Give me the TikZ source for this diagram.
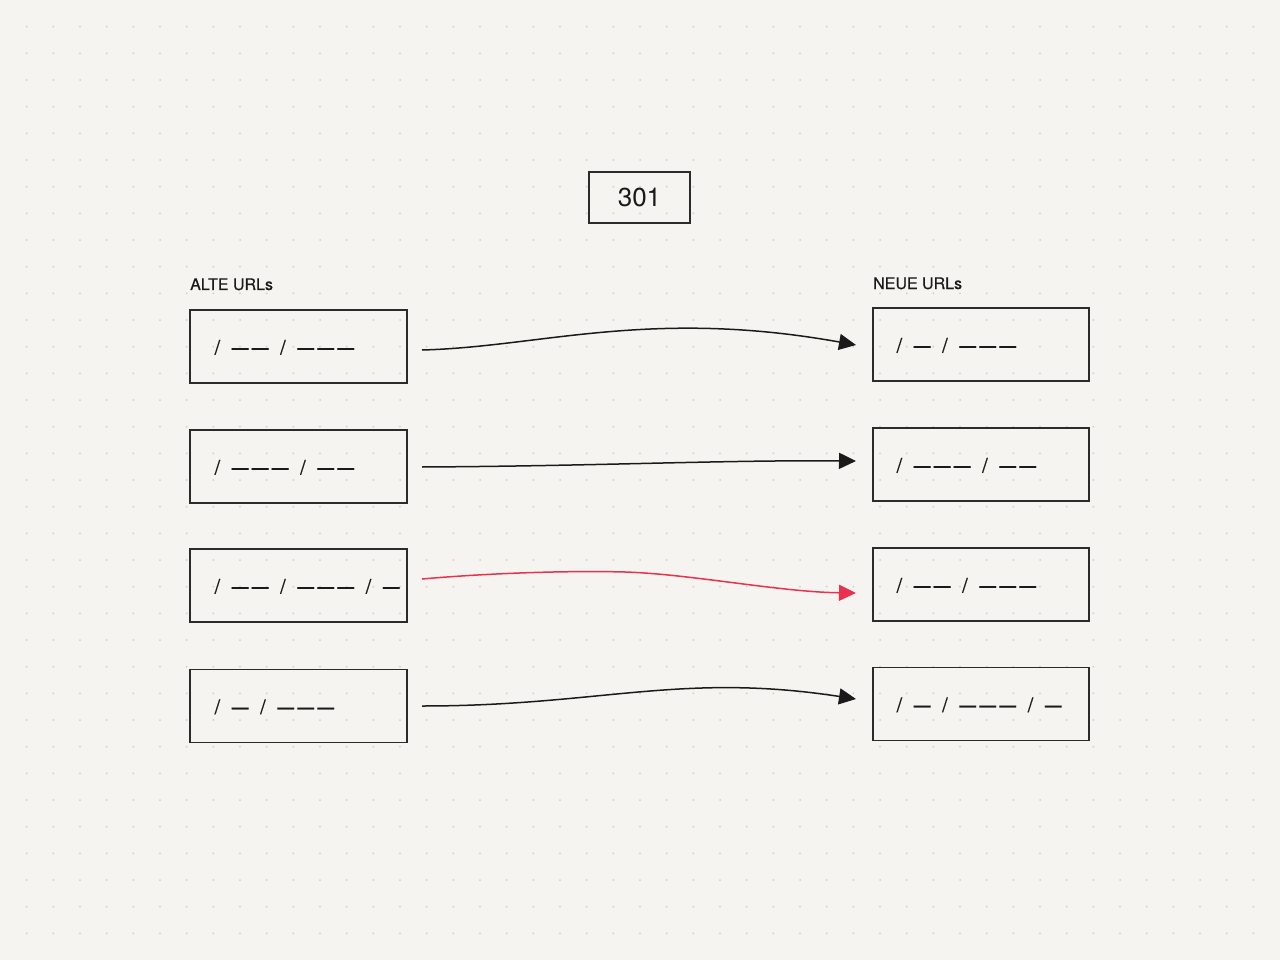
\documentclass[tikz,border=0pt]{standalone}
\usepackage{fontspec}
\setmainfont{TeX Gyre Heros}
\newfontfamily\medfont[FakeBold=0.5]{TeX Gyre Heros}
\usetikzlibrary{arrows.meta,calc}
\definecolor{bgc}{HTML}{F6F4F0}
\definecolor{dotc}{HTML}{D2CDC5}
\definecolor{boxc}{HTML}{2B2B2B}
\definecolor{txtc}{HTML}{1A1A1A}
\definecolor{redc}{HTML}{E8324F}
\newcommand\gp{\hspace{10pt}}
\newcommand\dsh{\makebox[20pt]{\raisebox{-0.8pt}{\scalebox{0.84}[1.15]{—}}}}
\tikzset{
  urlbox/.style={draw=boxc, line width=1.2pt, fill=none, minimum width=217pt, minimum height=73pt, inner sep=0pt},
  urltext/.style={anchor=base west, inner sep=0pt, text=txtc, font=\medfont\fontsize{20}{24}\selectfont},
  head/.style={anchor=base west, inner sep=0pt, text=txtc, font=\medfont\fontsize{16}{19}\selectfont},
  conn/.style={line width=1.5pt, draw=txtc, -{Triangle[length=17pt,width=16pt]}},
  connred/.style={line width=1.5pt, draw=redc, -{Triangle[length=17pt,width=16pt]}},
}
\begin{document}
\begin{tikzpicture}[x=1pt,y=-1pt]
\useasboundingbox (0,0) rectangle (1280,960);
\fill[bgc] (0,0) rectangle (1280,960);
\foreach \i in {1,...,47}{
  \foreach \j in {1,...,35}{
    \fill[dotc] (\i*26.667,\j*26.667) circle[radius=1pt];
  }
}
% 301 box
\node[draw=boxc, line width=1.2pt, minimum width=101pt, minimum height=51pt, inner sep=0pt, text=txtc, font=\fontsize{26}{30}\selectfont] (code) at (639.5,197.5) {301};
% headings
\node[head] (alte) at (190,290) {ALTE URLs};
\node[head] (neue) at (873,289) {NEUE URLs};
% left boxes
\node[urlbox] (L1) at (298.5,346.5) {};
\node[urlbox] (L2) at (298.5,466.5) {};
\node[urlbox] (L3) at (298.5,585.5) {};
\node[urlbox] (L4) at (298.5,706) {};
% right boxes
\node[urlbox, minimum width=216pt] (R1) at (981,344.5) {};
\node[urlbox, minimum width=216pt] (R2) at (981,464.5) {};
\node[urlbox, minimum width=216pt] (R3) at (981,584.5) {};
\node[urlbox, minimum width=216pt] (R4) at (981,704) {};
% texts
\node[urltext] (L1t) at ($(L1.west)+(25,8)$) {/\gp\dsh\dsh\gp/\gp\dsh\dsh\dsh};
\node[urltext] (L2t) at ($(L2.west)+(25,8)$) {/\gp\dsh\dsh\dsh\gp/\gp\dsh\dsh};
\node[urltext] (L3t) at ($(L3.west)+(25,8)$) {/\gp\dsh\dsh\gp/\gp\dsh\dsh\dsh\gp/\gp\dsh};
\node[urltext] (L4t) at ($(L4.west)+(25,8)$) {/\gp\dsh\gp/\gp\dsh\dsh\dsh};
\node[urltext] (R1t) at ($(R1.west)+(24,8)$) {/\gp\dsh\gp/\gp\dsh\dsh\dsh};
\node[urltext] (R2t) at ($(R2.west)+(24,8)$) {/\gp\dsh\dsh\dsh\gp/\gp\dsh\dsh};
\node[urltext] (R3t) at ($(R3.west)+(24,8)$) {/\gp\dsh\dsh\gp/\gp\dsh\dsh\dsh};
\node[urltext] (R4t) at ($(R4.west)+(24,8)$) {/\gp\dsh\gp/\gp\dsh\dsh\dsh\gp/\gp\dsh};
% connector endpoints
\coordinate (s1) at (422,350);
\coordinate (e1) at (856,345);
\coordinate (s2) at (422,467);
\coordinate (e2) at (856,461);
\coordinate (s3) at (422,579);
\coordinate (m3) at (625,572);
\coordinate (e3) at (856,593);
\coordinate (s4) at (422,706);
\coordinate (e4) at (856,699);
% connectors
\draw[conn] (s1) .. controls (540,347) and (650,308) .. (e1);
\draw[conn] (s2) .. controls (600,466) and (720,460) .. (e2);
\draw[connred] (s3) .. controls (490,573) and (570,570.5) .. (m3) .. controls (690,574) and (780,592) .. (e3);
\draw[conn] (s4) .. controls (600,706) and (680,672) .. (e4);
\end{tikzpicture}
\end{document}
